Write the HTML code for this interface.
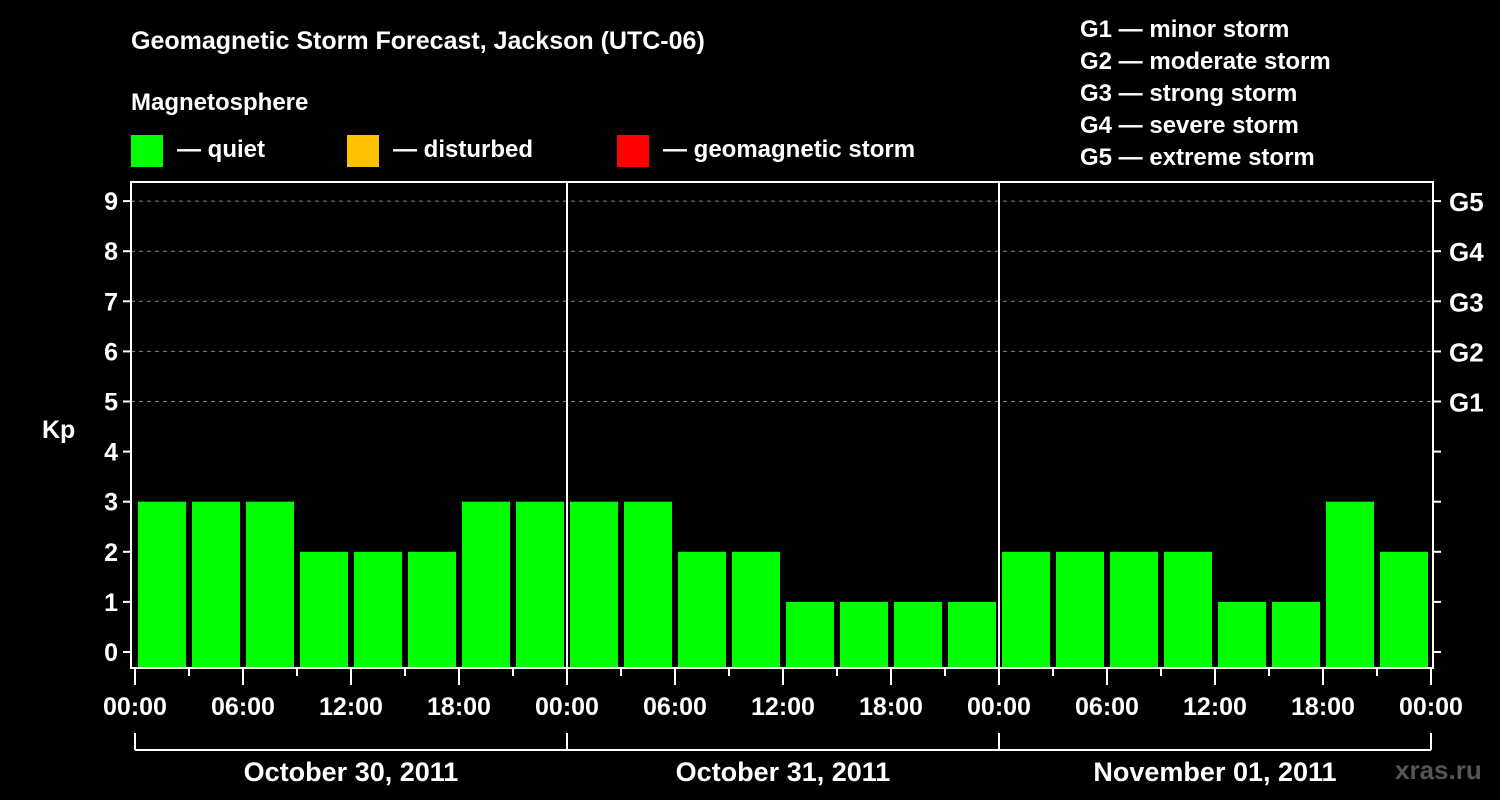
<!DOCTYPE html>
<html><head><meta charset="utf-8"><style>
html,body{margin:0;padding:0;background:#000;}
svg{display:block;font-family:"Liberation Sans",Arial,sans-serif;font-weight:bold;}
</style></head><body>
<svg id="chart" width="1500" height="800">
<rect width="1500" height="800" fill="#000"/>
<text x="131" y="49" fill="#fff" font-size="25">Geomagnetic Storm Forecast, Jackson (UTC-06)</text>
<text x="131" y="110" fill="#fff" font-size="24">Magnetosphere</text>
<g><rect x="131" y="135" width="32" height="32" fill="#00ff00"/><text x="177" y="157" fill="#fff" font-size="24">— quiet</text></g>
<g><rect x="347" y="135" width="32" height="32" fill="#ffc000"/><text x="393" y="157" fill="#fff" font-size="24">— disturbed</text></g>
<g><rect x="617" y="135" width="32" height="32" fill="#ff0000"/><text x="663" y="157" fill="#fff" font-size="24">— geomagnetic storm</text></g>
<g fill="#fff" font-size="24">
<text x="1080" y="37">G1 — minor storm</text>
<text x="1080" y="69">G2 — moderate storm</text>
<text x="1080" y="101">G3 — strong storm</text>
<text x="1080" y="133">G4 — severe storm</text>
<text x="1080" y="165">G5 — extreme storm</text>
</g>
<text x="42" y="438" fill="#fff" font-size="25">Kp</text>
<text x="1395" y="779" fill="#555" font-size="26">xras.ru</text>
<g id="grid"></g><g id="bars"></g><g id="axes"></g>
</svg>
<script>
const days = ["October 30, 2011","October 31, 2011","November 01, 2011"];
const kpValues = [3,3,3,2,2,2,3,3, 3,3,2,2,1,1,1,1, 2,2,2,2,1,1,3,2];
const yTicks = [0,1,2,3,4,5,6,7,8,9];
const gLabels = ["G1","G2","G3","G4","G5"];
const gLevels = [5,6,7,8,9];
const xLabels = ["00:00","06:00","12:00","18:00"];

const NS="http://www.w3.org/2000/svg";
const L=131, R=1433, T=182, B=668, X0=135, DAYW=432;
const y = v => 652 - v*50.1;
const x = h => X0 + h*18; // hours
function mk(tag, attrs, parent, text){const e=document.createElementNS(NS,tag);for(const k in attrs)e.setAttribute(k,attrs[k]);if(text!==undefined)e.textContent=text;parent.appendChild(e);return e;}
const grid=document.getElementById('grid'), bars=document.getElementById('bars'), axes=document.getElementById('axes');

gLevels.forEach((lv,i)=>{
  const ln=mk('line',{x1:L,x2:R,y1:y(lv),y2:y(lv),stroke:'#888','stroke-dasharray':'4,4','stroke-width':1},grid);
  
  
  const t=mk('text',{x:1449,y:y(lv)+10,fill:'#fff','font-size':26},axes,gLabels[i]);
  
  
});
kpValues.forEach((v,i)=>{
  const col = v>=5?'#ff0000':(v>=4?'#ffc000':'#00ff00');
  const r=mk('rect',{x:x(i*3)+3,y:y(v),width:48,height:B-y(v),fill:col},bars);
  
  
});
const box=mk('rect',{x:L,y:T,width:R-L,height:B-T,fill:'none',stroke:'#fff','stroke-width':2},axes);


for(let d=1;d<days.length;d++){
  const s=mk('line',{x1:X0+d*DAYW,x2:X0+d*DAYW,y1:T,y2:B,stroke:'#fff','stroke-width':2},axes);
  
  
}
yTicks.forEach(v=>{
  mk('line',{x1:L-8,x2:L,y1:y(v),y2:y(v),stroke:'#fff','stroke-width':2},axes);
  mk('line',{x1:R,x2:R+8,y1:y(v),y2:y(v),stroke:'#fff','stroke-width':2},axes);
  const t=mk('text',{x:L-13,y:y(v)+9,fill:'#fff','font-size':25,'text-anchor':'end'},axes,String(v));
  
  
});
for(let h=0;h<=72;h+=3){
  const major=h%6===0;
  mk('line',{x1:x(h),x2:x(h),y1:B,y2:B+(major?17:8),stroke:'#fff','stroke-width':2},axes);
  if(major){
    const t=mk('text',{x:x(h),y:715,fill:'#fff','font-size':25,'text-anchor':'middle'},axes,xLabels[(h/6)%4]);
    
    
  }
}
mk('line',{x1:X0,x2:X0+DAYW*days.length,y1:750,y2:750,stroke:'#fff','stroke-width':2},axes);
for(let d=0;d<=days.length;d++) mk('line',{x1:X0+d*DAYW,x2:X0+d*DAYW,y1:733,y2:750,stroke:'#fff','stroke-width':2},axes);
days.forEach((dn,d)=>{
  const t=mk('text',{x:X0+d*DAYW+DAYW/2,y:781,fill:'#fff','font-size':27,'text-anchor':'middle'},axes,dn);
  
  
});
</script>
</body></html>
